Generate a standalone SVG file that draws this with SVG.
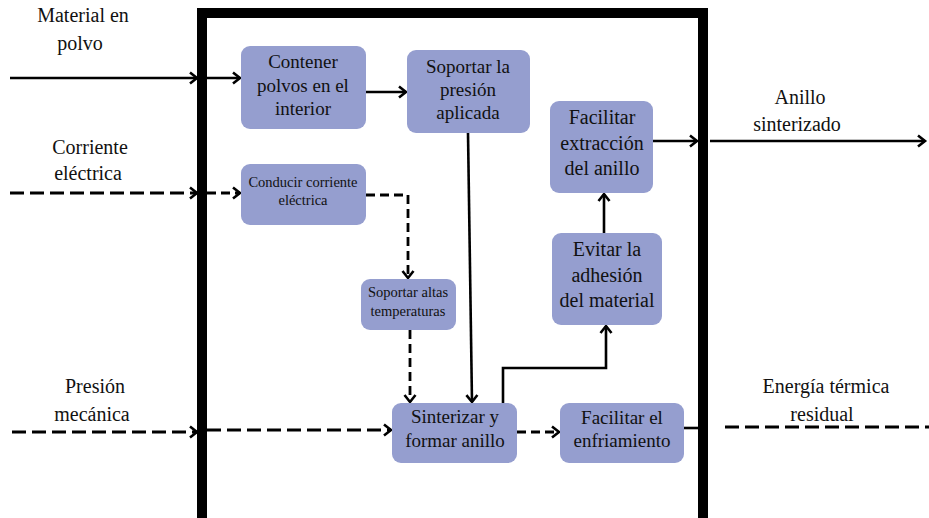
<svg xmlns="http://www.w3.org/2000/svg" width="929" height="518" viewBox="0 0 929 518">
<style>
.box{fill:#959ecf;stroke:none}
.t{fill:#111;text-anchor:middle}
.lbl{font-size:20px}
.big{font-size:19px}
.sm{font-size:14.5px}
.s{fill:none;stroke:#000;stroke-width:2.6}
.d{fill:none;stroke:#000;stroke-width:2.8;stroke-dasharray:14 6}
.d2{fill:none;stroke:#000;stroke-width:2.8;stroke-dasharray:9 5}
</style>
<defs>
<marker id="ah" markerUnits="userSpaceOnUse" markerWidth="14" markerHeight="14" viewBox="0 0 14 14" refX="11" refY="7" orient="auto">
<path d="M4,1.5 L11,7 L4,12.5" fill="none" stroke="#000" stroke-width="2.6" stroke-dasharray="none"/>
</marker>
</defs>
<rect width="929" height="518" fill="#fff"/>
<g id="frame"><rect x="202" y="13" width="501" height="510" fill="none" stroke="#000" stroke-width="10"/></g>
<g id="connectors">
<line class="s" x1="10" y1="78" x2="197" y2="78" marker-end="url(#ah)"/>
<line class="s" x1="207" y1="78" x2="240" y2="78" marker-end="url(#ah)"/>
<line class="s" x1="366" y1="92" x2="406" y2="92" marker-end="url(#ah)"/>
<line class="d" x1="10" y1="193" x2="197" y2="193" marker-end="url(#ah)"/>
<line class="d2" x1="207" y1="193" x2="240" y2="193" marker-end="url(#ah)"/>
<polyline class="d2" points="366,195 408,195 408,278" marker-end="url(#ah)"/>
<line class="d2" x1="410" y1="330" x2="410" y2="402" marker-end="url(#ah)"/>
<line class="s" x1="468" y1="133" x2="472" y2="402" marker-end="url(#ah)"/>
<line class="d" x1="12" y1="432" x2="197" y2="432" marker-end="url(#ah)"/>
<line class="d" x1="207" y1="430" x2="391" y2="430" marker-end="url(#ah)"/>
<line class="d2" x1="517" y1="432" x2="559" y2="432" marker-end="url(#ah)"/>
<polyline class="s" points="503,403 503,368 606,368 606,326" marker-end="url(#ah)"/>
<line class="s" x1="604" y1="233" x2="604" y2="194" marker-end="url(#ah)"/>
<line class="s" x1="653" y1="141" x2="697" y2="141" marker-end="url(#ah)"/>
<line class="s" x1="710" y1="141" x2="925" y2="141" marker-end="url(#ah)"/>
<line class="s" x1="684" y1="428" x2="700" y2="428"/>
<line class="d" x1="725" y1="427" x2="929" y2="427"/>
</g>
<g font-family="Liberation Serif, DejaVu Serif, serif">
<g id="labels">
<text class="t lbl" x="83" y="22">Material en</text>
<text class="t lbl" x="80" y="50">polvo</text>
<text class="t lbl" x="90" y="154">Corriente</text>
<text class="t lbl" x="88" y="180">eléctrica</text>
<text class="t lbl" x="95" y="393">Presión</text>
<text class="t lbl" x="92" y="421">mecánica</text>
<text class="t lbl" x="800" y="104">Anillo</text>
<text class="t lbl" x="797" y="131">sinterizado</text>
<text class="t lbl" x="826" y="393">Energía térmica</text>
<text class="t lbl" x="822" y="421">residual</text>
</g>
<g id="n-contener">
<rect class="box" x="241" y="46" width="125" height="83" rx="9"/>
<text class="t big" x="303" y="68">Contener</text>
<text class="t big" x="303" y="92">polvos en el</text>
<text class="t big" x="303" y="115">interior</text>
</g>
<g id="n-soportar-presion">
<rect class="box" x="407" y="50" width="123" height="83" rx="9"/>
<text class="t big" x="468" y="73">Soportar la</text>
<text class="t big" x="468" y="96">presión</text>
<text class="t big" x="468" y="119">aplicada</text>
</g>
<g id="n-conducir">
<rect class="box" x="241" y="164" width="125" height="61" rx="9"/>
<text class="t sm" x="303" y="187">Conducir corriente</text>
<text class="t sm" x="303" y="205">eléctrica</text>
</g>
<g id="n-facilitar-extraccion">
<rect class="box" x="550" y="101" width="103" height="92" rx="9"/>
<text class="t lbl" x="602" y="124">Facilitar</text>
<text class="t lbl" x="602" y="150">extracción</text>
<text class="t lbl" x="602" y="175">del anillo</text>
</g>
<g id="n-evitar">
<rect class="box" x="552" y="233" width="110" height="92" rx="9"/>
<text class="t lbl" x="607" y="256">Evitar la</text>
<text class="t lbl" x="607" y="282">adhesión</text>
<text class="t lbl" x="607" y="307">del material</text>
</g>
<g id="n-soportar-temp">
<rect class="box" x="361" y="279" width="95" height="51" rx="9"/>
<text class="t sm" x="408" y="297">Soportar altas</text>
<text class="t sm" x="408" y="316">temperaturas</text>
</g>
<g id="n-sinterizar">
<rect class="box" x="392" y="403" width="125" height="60" rx="9"/>
<text class="t big" x="455" y="423">Sinterizar y</text>
<text class="t big" x="455" y="447">formar anillo</text>
</g>
<g id="n-enfriamiento">
<rect class="box" x="560" y="403" width="124" height="60" rx="9"/>
<text class="t big" x="622" y="424">Facilitar el</text>
<text class="t big" x="622" y="447">enfriamiento</text>
</g>
</g>
</svg>
